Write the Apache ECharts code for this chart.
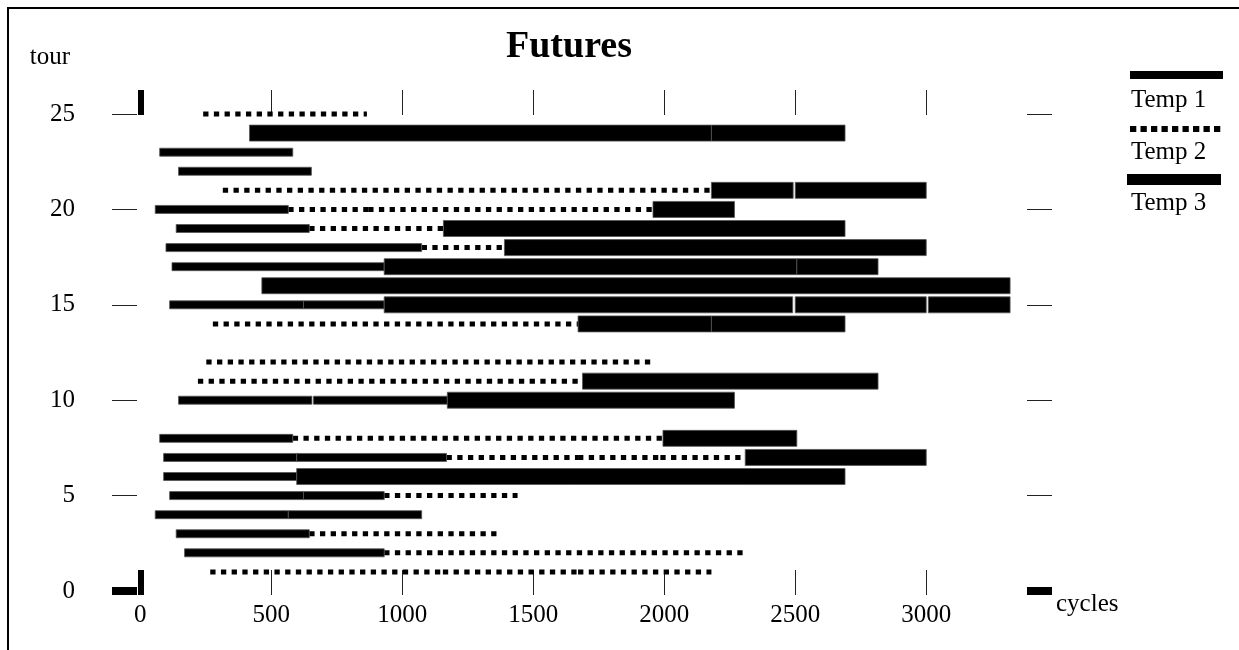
<!DOCTYPE html>
<html>
<head>
<meta charset="utf-8">
<script src="https://cdn.jsdelivr.net/npm/echarts@6/dist/echarts.min.js"></script>
<style>
html,body{margin:0;padding:0;background:#fff;}
#chart{width:1239px;height:650px;}
</style>
</head>
<body>
<div id="chart"></div>
<script>
// ---- data: [tour, startCycle, endCycle] ----
const temp1 = [
  [23, 74, 582], [22, 146, 653], [20, 57, 565], [19, 137, 645], [18, 98, 1074],
  [17, 121, 931], [15, 112, 623], [15, 623, 931], [10, 146, 655], [10, 661, 1172],
  [8, 74, 582], [7, 89, 597], [7, 597, 1169], [6, 89, 597], [5, 112, 623], [5, 623, 931],
  [4, 57, 565], [4, 565, 1074], [3, 137, 645], [2, 169, 931]
];
const temp2 = [
  [25, 240, 865], [21, 315, 2180], [20, 565, 870], [20, 870, 1957], [19, 645, 1157],
  [18, 1074, 1390], [14, 277, 1671], [12, 252, 1436], [12, 1436, 1957], [11, 220, 1670],
  [8, 582, 1995], [7, 1169, 1671], [7, 1671, 1985], [7, 1985, 2300], [5, 931, 1440],
  [3, 645, 1369], [2, 931, 2300], [1, 267, 1155], [1, 1155, 1671], [1, 1671, 2180]
];
const temp3 = [
  [24, 417, 2180], [24, 2180, 2690], [21, 2180, 2492], [21, 2500, 3000], [20, 1957, 2268],
  [19, 1157, 2690], [18, 1390, 3000], [17, 931, 2506], [17, 2506, 2816], [16, 464, 3320],
  [15, 931, 2490], [15, 2500, 3000], [15, 3008, 3320], [14, 1671, 2180], [14, 2180, 2690],
  [11, 1688, 2816], [10, 1172, 2268], [8, 1995, 2506], [7, 2309, 3000], [6, 597, 2690]
];
const xTicks = [0, 500, 1000, 1500, 2000, 2500, 3000];
const yTicks = [0, 5, 10, 15, 20, 25];
const seriesNames = ['Temp 1', 'Temp 2', 'Temp 3'];

const FONT = 'Liberation Serif';
const X_MIN = -108, X_MAX = 3480, Y_MIN = -0.21, Y_MAX = 26.26;

function barRenderer(h) {
  return function (params, api) {
    const t = api.value(0), s = api.value(1), e = api.value(2);
    const p0 = api.coord([s, t]);
    const p1 = api.coord([e, t]);
    return {
      type: 'rect',
      shape: { x: p0[0], y: p0[1] - h / 2, width: p1[0] - p0[0], height: h },
      style: { fill: '#000', stroke: '#555', lineWidth: 0.8 }
    };
  };
}
function dotRenderer(params, api) {
  const t = api.value(0), s = api.value(1), e = api.value(2);
  const p0 = api.coord([s, t]);
  const p1 = api.coord([e, t]);
  return {
    type: 'line',
    shape: { x1: p0[0], y1: p0[1], x2: p1[0], y2: p1[1] },
    style: { stroke: '#000', lineWidth: 5, lineDash: [5.3, 5.4], lineCap: 'butt', fill: null }
  };
}

function xAx(pos, ticks, width, color, extra) {
  return Object.assign({
    type: 'value', position: pos, min: X_MIN, max: X_MAX,
    axisLine: { show: false, onZero: false }, splitLine: { show: false },
    axisTick: { show: true, inside: true, length: 25, customValues: ticks, lineStyle: { color: color, width: width } },
    axisLabel: { show: false }
  }, extra || {});
}
function yAx(pos, ticks, width, color, extra) {
  return Object.assign({
    type: 'value', position: pos, min: Y_MIN, max: Y_MAX,
    axisLine: { show: false, onZero: false }, splitLine: { show: false },
    axisTick: { show: true, inside: true, length: 25, customValues: ticks, lineStyle: { color: color, width: width } },
    axisLabel: { show: false }
  }, extra || {});
}
const plain = v => String(v);

const chart = echarts.init(document.getElementById('chart'), null, { renderer: 'canvas' });
chart.setOption({
  animation: false,
  backgroundColor: '#fff',
  title: {
    text: 'Futures', left: 501, top: 23,
    textStyle: { fontFamily: FONT, fontWeight: 'bold', fontSize: 38, color: '#000' }
  },
  grid: { left: 112, right: 187, top: 90, bottom: 55, containLabel: false },
  xAxis: [
    xAx('bottom', xTicks, 1, '#222', {
      axisLabel: { show: true, customValues: xTicks, formatter: plain, margin: 8, fontFamily: FONT, fontSize: 25, color: '#000' },
      name: 'cycles', nameLocation: 'end', nameGap: 4,
      nameTextStyle: { fontFamily: FONT, fontSize: 25, color: '#000', align: 'left', verticalAlign: 'top', lineHeight: 19 }
    }),
    xAx('top', xTicks, 1, '#222'),
    xAx('bottom', [0], 6, '#000'),
    xAx('top', [0], 6, '#000')
  ],
  yAxis: [
    yAx('left', yTicks, 1, '#222', {
      axisLabel: { show: true, customValues: yTicks, formatter: plain, margin: 37, fontFamily: FONT, fontSize: 25, color: '#000' },
      name: 'tour', nameLocation: 'end', nameGap: 20,
      nameTextStyle: { fontFamily: FONT, fontSize: 25, color: '#000', align: 'right', verticalAlign: 'bottom', padding: [0, 42, 0, 0] }
    }),
    yAx('right', yTicks, 1, '#222'),
    yAx('left', [0], 8, '#000'),
    yAx('right', [0], 8, '#000')
  ],
  series: [
    { name: seriesNames[1], type: 'custom', renderItem: dotRenderer, data: temp2, encode: { x: [1, 2], y: 0 }, xAxisIndex: 0, yAxisIndex: 0, z: 2 },
    { name: seriesNames[0], type: 'custom', renderItem: barRenderer(8), data: temp1, encode: { x: [1, 2], y: 0 }, xAxisIndex: 0, yAxisIndex: 0, z: 3 },
    { name: seriesNames[2], type: 'custom', renderItem: barRenderer(16), data: temp3, encode: { x: [1, 2], y: 0 }, xAxisIndex: 0, yAxisIndex: 0, z: 4 }
  ],
  graphic: [
    { type: 'rect', silent: true, shape: { x: 8, y: 8, width: 1400, height: 800 }, style: { fill: null, stroke: '#000', lineWidth: 2 } },
    { type: 'rect', silent: true, shape: { x: 1130, y: 71, width: 93, height: 8 }, style: { fill: '#000' } },
    { type: 'text', silent: true, left: 1131, top: 88, style: { text: seriesNames[0], font: '25px "Liberation Serif"', fill: '#000' } },
    { type: 'line', silent: true, shape: { x1: 1130, y1: 129, x2: 1221, y2: 129 }, style: { stroke: '#000', lineWidth: 6, lineDash: [6.3, 4.2], lineCap: 'butt' } },
    { type: 'text', silent: true, left: 1131, top: 140, style: { text: seriesNames[1], font: '25px "Liberation Serif"', fill: '#000' } },
    { type: 'rect', silent: true, shape: { x: 1127, y: 174, width: 94, height: 11 }, style: { fill: '#000' } },
    { type: 'text', silent: true, left: 1131, top: 191, style: { text: seriesNames[2], font: '25px "Liberation Serif"', fill: '#000' } }
  ]
});
</script>
</body>
</html>
